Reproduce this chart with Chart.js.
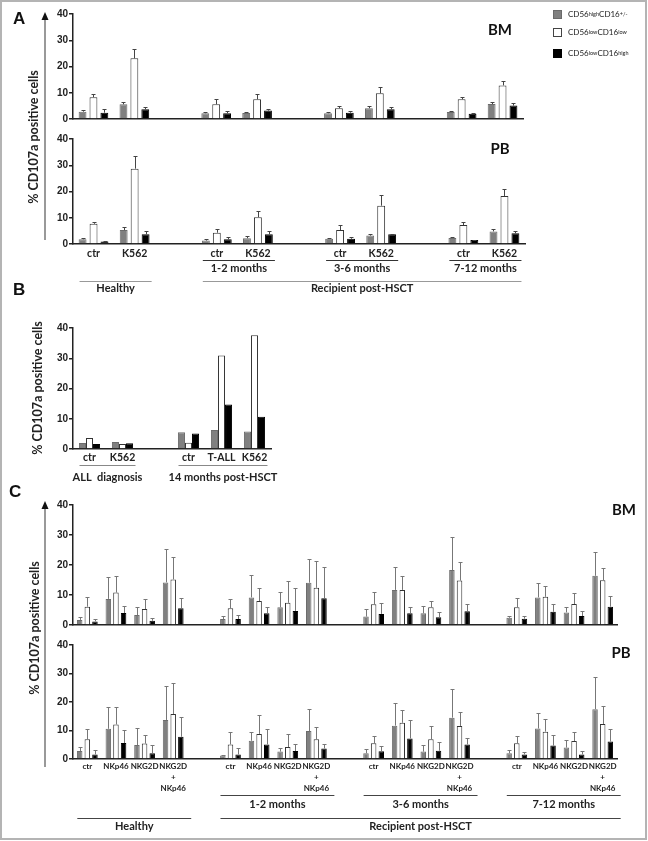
<!DOCTYPE html>
<html>
<head>
<meta charset="utf-8">
<script src="https://cdn.jsdelivr.net/npm/chart.js@4.4.0/dist/chart.umd.min.js"></script>
<style>
  html, body { margin: 0; padding: 0; background: #fff; }
  #page { position: relative; width: 648px; height: 841px; overflow: hidden; font-family: Lato, "Liberation Sans", sans-serif; color: #222; }
  canvas.layer { position: absolute; left: 0; top: 0; }
  .abs { position: absolute; white-space: nowrap; }
  .letter { font: bold 17px "Liberation Sans", Arial, sans-serif; color: #111; }
  .tag { font: bold 15px Lato, sans-serif; color: #111; transform: translate(-50%, -50%); }
  .ytitle { font: bold 12.5px Lato, sans-serif; color: #222; transform: translate(-50%, -50%) rotate(-90deg); }
  .leg { font: 8px Lato, sans-serif; color: #222; left: 553px; display: flex; align-items: center; }
  .leg sup { font-size: 5.5px; vertical-align: 3px; }
  .sw { display: inline-block; width: 9px; height: 9px; margin-right: 6px; box-sizing: border-box; border: 1px solid #444; }
</style>
</head>
<body>
<div id="page">
  <canvas class="layer" id="aBM" width="648" height="841"></canvas>
  <canvas class="layer" id="aPB" width="648" height="841"></canvas>
  <canvas class="layer" id="bChart" width="648" height="841"></canvas>
  <canvas class="layer" id="cBM" width="648" height="841"></canvas>
  <canvas class="layer" id="cPB" width="648" height="841"></canvas>

  <svg class="abs" style="left:0;top:0" width="648" height="841">
    <rect x="1" y="1" width="645" height="838" fill="none" stroke="#b4b4b4" stroke-width="2"/>
    <line x1="45" y1="18" x2="45" y2="240" stroke="#777" stroke-width="1.5"/>
    <polygon points="41.5,20 48.5,20 45,12" fill="#111"/>
    <line x1="45" y1="507" x2="45" y2="767" stroke="#777" stroke-width="1.5"/>
    <polygon points="41.5,509 48.5,509 45,501" fill="#111"/>
  </svg>

  <div class="abs letter" style="left:13px;top:9px">A</div>
  <div class="abs letter" style="left:13px;top:280px">B</div>
  <div class="abs letter" style="left:9px;top:482px">C</div>

  <div class="abs tag" style="left:500px;top:29px">BM</div>
  <div class="abs tag" style="left:500px;top:148px">PB</div>
  <div class="abs tag" style="left:624px;top:509px">BM</div>
  <div class="abs tag" style="left:621px;top:652px">PB</div>

  <div class="abs ytitle" style="left:33px;top:137px">% CD107a positive cells</div>
  <div class="abs ytitle" style="left:37px;top:388px">% CD107a positive cells</div>
  <div class="abs ytitle" style="left:34px;top:628px">% CD107a positive cells</div>

  <div class="abs leg" style="top:9px"><span class="sw" style="background:#808080;border-color:#6a6a6a"></span>CD56<sup>high</sup>CD16<sup>+/-</sup></div>
  <div class="abs leg" style="top:27px"><span class="sw" style="background:#fff"></span>CD56<sup>low</sup>CD16<sup>low</sup></div>
  <div class="abs leg" style="top:48px"><span class="sw" style="background:#000;border-color:#000"></span>CD56<sup>low</sup>CD16<sup>high</sup></div>
</div>

<script>
"use strict";

// Data ----------------------------------------------------------------------
// Panel A: degranulation vs K562, grouped by time after HSCT (empty slots = gaps)
const A_LABELS = ["ctr", "K562", "", "ctr", "K562", "", "ctr", "K562", "", "ctr", "K562"];

const A_BM_GRAY = [2.8, 5.6, null, 2.2, 2.3, null, 2.2, 4.1, null, 2.7, 5.7];
const A_BM_GRAY_ERR = [0.6, 1.0, null, 0.5, 0.5, null, 0.4, 0.9, null, 0.4, 0.9];
const A_BM_WHITE = [8.3, 23.1, null, 5.6, 7.5, null, 4.1, 9.8, null, 7.5, 12.8];
const A_BM_WHITE_ERR = [1.2, 3.4, null, 2.0, 2.1, null, 0.9, 2.3, null, 1.0, 1.6];
const A_BM_BLACK = [2.4, 3.7, null, 2.2, 3.2, null, 2.4, 3.7, null, 2.0, 5.1];
const A_BM_BLACK_ERR = [1.3, 0.7, null, 0.8, 0.6, null, 0.5, 0.9, null, 0.4, 1.1];

const A_PB_GRAY = [1.8, 5.3, null, 1.3, 2.2, null, 2.0, 3.2, null, 2.3, 4.8];
const A_PB_GRAY_ERR = [0.4, 1.0, null, 0.7, 0.8, null, 0.3, 0.5, null, 0.4, 0.9];
const A_PB_WHITE = [7.7, 28.7, null, 4.3, 10.2, null, 5.3, 14.6, null, 7.2, 18.3];
const A_PB_WHITE_ERR = [0.6, 4.9, null, 1.4, 2.5, null, 2.1, 4.2, null, 1.2, 2.5];
const A_PB_BLACK = [1.0, 3.7, null, 1.8, 3.7, null, 2.0, 3.7, null, 1.5, 4.1];
const A_PB_BLACK_ERR = [0.2, 1.4, null, 0.7, 1.3, null, 0.5, 0.3, null, 0.2, 1.0];

const A_PERIODS = [["1-2 months", 3, 4], ["3-6 months", 6, 7], ["7-12 months", 9, 10]];
const A_COHORTS = [["Healthy", 0, 1], ["Recipient post-HSCT", 3, 10]];

// Panel B: single patient
const B_LABELS = ["ctr", "K562", "", "ctr", "T-ALL", "K562"];
const B_GRAY = [2.0, 2.3, null, 5.5, 6.3, 5.8];
const B_WHITE = [3.6, 1.65, null, 2.1, 30.9, 37.6];
const B_BLACK = [1.65, 1.9, null, 5.1, 14.7, 10.7];
const B_GROUPS = [["ALL  diagnosis", 0, 1], ["14 months post-HSCT", 3, 5]];

// Panel C: receptor-triggered degranulation
const C_LABELS = [
  "ctr", "NKp46", "NKG2D", ["NKG2D", "+", "NKp46"], "",
  "ctr", "NKp46", "NKG2D", ["NKG2D", "+", "NKp46"], "",
  "ctr", "NKp46", "NKG2D", ["NKG2D", "+", "NKp46"], "",
  "ctr", "NKp46", "NKG2D", ["NKG2D", "+", "NKp46"],
];

const C_BM_GRAY = [1.7, 8.7, 3.3, 14.2, null, 2.0, 9.2, 5.9, 14.1, null, 2.8, 11.7, 3.9, 18.3, null, 2.4, 9.2, 4.2, 16.4];
const C_BM_GRAY_ERR = [1.1, 7.4, 2.6, 11.1, null, 1.1, 7.5, 5.2, 7.9, null, 2.5, 7.5, 2.4, 11.1, null, 0.7, 4.7, 1.7, 8.0];
const C_BM_WHITE = [6.1, 10.8, 5.3, 15.2, null, 5.6, 8.0, 7.4, 12.4, null, 6.9, 11.7, 5.9, 14.8, null, 5.9, 9.4, 7.0, 14.9];
const C_BM_WHITE_ERR = [3.3, 5.6, 3.3, 7.4, null, 3.2, 4.2, 7.3, 8.9, null, 4.2, 4.7, 2.2, 6.1, null, 3.0, 3.5, 3.8, 4.1];
const C_BM_BLACK = [1.2, 4.0, 1.4, 5.6, null, 2.0, 3.9, 4.7, 8.9, null, 3.7, 3.9, 2.6, 4.6, null, 2.1, 4.4, 3.0, 6.1];
const C_BM_BLACK_ERR = [0.7, 2.3, 0.8, 3.3, null, 1.3, 2.2, 7.5, 10.3, null, 3.7, 2.0, 1.8, 2.3, null, 1.0, 2.7, 1.6, 3.6];

const C_PB_GRAY = [2.8, 10.6, 4.9, 13.7, null, 1.2, 6.4, 2.6, 9.8, null, 2.0, 11.7, 2.6, 14.5, null, 2.0, 10.7, 4.0, 17.5];
const C_PB_GRAY_ERR = [1.5, 7.7, 6.1, 11.9, null, 0.2, 2.9, 1.1, 7.7, null, 1.4, 7.8, 2.3, 10.2, null, 1.2, 5.3, 2.7, 11.3];
const C_PB_WHITE = [6.9, 12.1, 5.4, 15.8, null, 5.1, 8.8, 4.2, 6.9, null, 5.5, 12.7, 6.9, 11.6, null, 5.5, 9.6, 6.3, 12.3];
const C_PB_WHITE_ERR = [3.5, 6.0, 3.0, 10.7, null, 4.2, 6.6, 4.6, 4.4, null, 2.6, 4.5, 4.7, 5.0, null, 2.7, 4.3, 3.3, 6.4];
const C_PB_BLACK = [1.6, 5.6, 2.0, 7.8, null, 1.6, 5.1, 2.8, 3.7, null, 2.7, 7.2, 2.9, 5.1, null, 1.6, 4.7, 1.6, 6.1];
const C_PB_BLACK_ERR = [1.6, 4.6, 2.8, 7.0, null, 2.1, 5.3, 2.3, 1.4, null, 1.9, 6.5, 3.2, 2.4, null, 1.0, 3.7, 1.2, 4.4];

const C_PERIODS = [["1-2 months", 5, 8], ["3-6 months", 10, 13], ["7-12 months", 15, 18]];
const C_COHORTS = [["Healthy", 0, 3], ["Recipient post-HSCT", 5, 18]];

const Y_TICKS = [0, 10, 20, 30, 40];

// Plugins -------------------------------------------------------------------
const errorBars = {
  id: "errbars",
  afterDatasetsDraw(chart, args, opts) {
    const { ctx } = chart;
    const y = chart.scales.y;
    ctx.save();
    ctx.strokeStyle = opts.color || "#444";
    ctx.lineWidth = 1;
    chart.data.datasets.forEach((ds, i) => {
      if (!ds.errors) return;
      chart.getDatasetMeta(i).data.forEach((bar, j) => {
        const v = ds.data[j], e = ds.errors[j];
        if (v == null || e == null) return;
        const x = Math.round(bar.x) + 0.5;
        const top = Math.round(y.getPixelForValue(v + e)) + 0.5;
        ctx.beginPath();
        ctx.moveTo(x, bar.y);
        ctx.lineTo(x, top);
        ctx.moveTo(x - 2, top);
        ctx.lineTo(x + 2, top);
        ctx.stroke();
      });
    });
    ctx.restore();
  },
};

// bracket lines + captions under the x axis
const groupLabels = {
  id: "groups",
  afterDraw(chart, args, opts) {
    if (!opts.rows) return;
    const { ctx } = chart;
    const x = chart.scales.x;
    const base = chart.chartArea.bottom;
    ctx.save();
    ctx.textAlign = "center";
    ctx.textBaseline = "middle";
    ctx.fillStyle = "#222";
    opts.rows.forEach((row) => {
      row.items.forEach(([text, from, to]) => {
        const x0 = x.getPixelForValue(from) - row.padL;
        const x1 = x.getPixelForValue(to) + row.padR;
        const ly = Math.round(base + row.line) + 0.5;
        ctx.strokeStyle = row.color;
        ctx.lineWidth = 1.2;
        ctx.beginPath();
        ctx.moveTo(x0, ly);
        ctx.lineTo(x1, ly);
        ctx.stroke();
        ctx.font = row.font;
        ctx.fillText(text, (x0 + x1) / 2, base + row.text);
      });
    });
    ctx.restore();
  },
};

// Chart factory -------------------------------------------------------------
const PAGE_W = 648, PAGE_H = 841;
const TICK_FONT = { family: "'Liberation Sans', Arial, sans-serif", size: 10, weight: "bold" };

function series(data, errors, kind, barPct) {
  const style = {
    gray: { backgroundColor: "#808080", borderColor: "#6c6c6c" },
    white: { backgroundColor: "#ffffff", borderColor: "#333333" },
    black: { backgroundColor: "#000000", borderColor: "#000000" },
  }[kind];
  return { data, errors, borderWidth: 1, barPercentage: barPct, ...style };
}

function barChart(id, o) {
  const yW = 30;
  return new Chart(document.getElementById(id), {
    type: "bar",
    data: {
      labels: o.labels,
      datasets: [
        series(o.gray, o.grayErr, "gray", o.barPct),
        series(o.white, o.whiteErr, "white", o.barPct),
        series(o.black, o.blackErr, "black", o.barPct),
      ],
    },
    options: {
      responsive: false,
      animation: false,
      events: [],
      datasets: { bar: { categoryPercentage: o.catPct } },
      layout: {
        padding: {
          left: o.box.left - yW,
          right: PAGE_W - o.box.right,
          top: o.box.top,
          bottom: PAGE_H - o.box.bottom - o.xH,
        },
      },
      scales: {
        x: {
          afterFit: (s) => { s.height = o.xH; },
          grid: { display: false, drawTicks: false },
          border: { color: "#222", width: 1.5 },
          ticks: {
            display: o.showTicks,
            autoSkip: false,
            maxRotation: 0,
            minRotation: 0,
            padding: o.tickPad,
            color: "#222",
            font: o.xFont,
          },
        },
        y: {
          min: 0,
          max: 40,
          afterFit: (s) => { s.width = yW; },
          afterBuildTicks: (s) => { s.ticks = Y_TICKS.map((v) => ({ value: v })); },
          grid: { drawOnChartArea: false, drawTicks: true, tickLength: 4, color: "#222", lineWidth: 1.5 },
          border: { color: "#222", width: 1.5 },
          ticks: { padding: 1, color: "#222", font: TICK_FONT },
        },
      },
      plugins: {
        legend: { display: false },
        tooltip: { enabled: false },
        errbars: { color: o.errColor },
        groups: { rows: o.rows || null },
      },
    },
    plugins: [errorBars, groupLabels],
  });
}

const LABEL_FONT = "bold 11px Lato, sans-serif";
const A_X_FONT = { family: "Lato, sans-serif", size: 10.5, weight: "bold" };
const C_X_FONT = { family: "Lato, sans-serif", size: 8, weight: "bold", lineHeight: 1.35 };

// Panel A -------------------------------------------------------------------
barChart("aBM", {
  labels: A_LABELS, box: { left: 73, right: 523, top: 14, bottom: 119 }, xH: 10,
  showTicks: false, tickPad: 3, xFont: A_X_FONT, catPct: 0.8, barPct: 0.72, errColor: "#444",
  gray: A_BM_GRAY, grayErr: A_BM_GRAY_ERR, white: A_BM_WHITE, whiteErr: A_BM_WHITE_ERR,
  black: A_BM_BLACK, blackErr: A_BM_BLACK_ERR,
});

barChart("aPB", {
  labels: A_LABELS, box: { left: 73, right: 525, top: 139, bottom: 244 }, xH: 20,
  showTicks: true, tickPad: 3, xFont: A_X_FONT, catPct: 0.8, barPct: 0.72, errColor: "#444",
  gray: A_PB_GRAY, grayErr: A_PB_GRAY_ERR, white: A_PB_WHITE, whiteErr: A_PB_WHITE_ERR,
  black: A_PB_BLACK, blackErr: A_PB_BLACK_ERR,
  rows: [
    { items: A_PERIODS, line: 16, text: 24.5, padL: 14, padR: 17, color: "#333", font: LABEL_FONT },
    { items: A_COHORTS, line: 37, text: 44, padL: 14, padR: 17, color: "#999", font: LABEL_FONT },
  ],
});

// Panel B -------------------------------------------------------------------
barChart("bChart", {
  labels: B_LABELS, box: { left: 73, right: 271, top: 328, bottom: 449 }, xH: 20,
  showTicks: true, tickPad: 2, xFont: A_X_FONT, catPct: 0.64, barPct: 1.0, errColor: "#444",
  gray: B_GRAY, grayErr: null, white: B_WHITE, whiteErr: null, black: B_BLACK, blackErr: null,
  rows: [
    { items: B_GROUPS, line: 16, text: 28, padL: 10, padR: 13, color: "#888", font: LABEL_FONT },
  ],
});

// Panel C -------------------------------------------------------------------
barChart("cBM", {
  labels: C_LABELS, box: { left: 73, right: 617, top: 505, bottom: 625 }, xH: 8,
  showTicks: false, tickPad: 2, xFont: C_X_FONT, catPct: 0.8, barPct: 0.72, errColor: "#777",
  gray: C_BM_GRAY, grayErr: C_BM_GRAY_ERR, white: C_BM_WHITE, whiteErr: C_BM_WHITE_ERR,
  black: C_BM_BLACK, blackErr: C_BM_BLACK_ERR,
});

barChart("cPB", {
  labels: C_LABELS, box: { left: 73, right: 617, top: 645, bottom: 759 }, xH: 40,
  showTicks: true, tickPad: 2, xFont: C_X_FONT, catPct: 0.8, barPct: 0.72, errColor: "#777",
  gray: C_PB_GRAY, grayErr: C_PB_GRAY_ERR, white: C_PB_WHITE, whiteErr: C_PB_WHITE_ERR,
  black: C_PB_BLACK, blackErr: C_PB_BLACK_ERR,
  rows: [
    { items: C_PERIODS, line: 36, text: 45, padL: 10, padR: 18, color: "#444", font: LABEL_FONT },
    { items: C_COHORTS, line: 59, text: 67, padL: 10, padR: 18, color: "#444", font: LABEL_FONT },
  ],
});
</script>
</body>
</html>
